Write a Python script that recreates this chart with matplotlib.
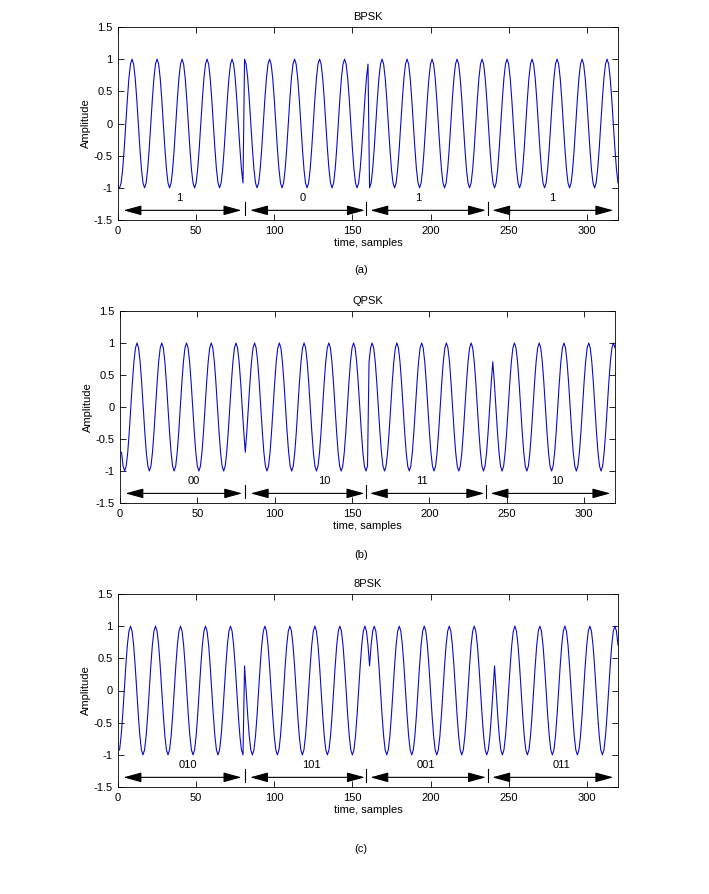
import numpy as np
import matplotlib
matplotlib.use('Agg')
import matplotlib.pyplot as plt

plt.rcParams['font.family'] = ['Liberation Sans', 'DejaVu Sans']
plt.rcParams['axes.unicode_minus'] = False

# --- data ---
titles = ['BPSK', 'QPSK', '8PSK']
panel_tags = ['(a)', '(b)', '(c)']
bit_labels = [['1', '0', '1', '1'],
              ['00', '10', '11', '10'],
              ['010', '101', '001', '011']]
# carrier phase of every symbol, in units of pi/8
phase_eighths = [[8, 0, 8, 8],
                 [6, 10, 14, 2],
                 [9, 3, 13, 3]]
samples_per_symbol = 80
samples_per_cycle = 16

# --- layout (pixels of the 709x894 figure turned into fractions) ---
axes_rects = [[118 / 709, 1 - 220 / 894, 500 / 709, 193 / 894],
              [120 / 709, 1 - 503 / 894, 495 / 709, 192 / 894],
              [118 / 709, 1 - 787 / 894, 500 / 709, 193 / 894]]
tag_y = [270, 555, 849]
arrow_spans = [(3.5, 79), (84.5, 158), (161.5, 235.5), (239.5, 317)]
divider_x = [81, 159, 236.5]
label_x = [[39, 118, 192, 278],
           [48, 132, 195, 283],
           [45, 124, 197, 284]]
arrow_y = -1.35
text_y = -1.16

fig = plt.figure(figsize=(7.09, 8.94), dpi=100)

for p in range(3):
    ax = fig.add_axes(axes_rects[p])
    n = np.arange(samples_per_symbol * len(phase_eighths[p]))
    phase = np.repeat(np.array(phase_eighths[p]) * np.pi / 8, samples_per_symbol)
    y = np.cos(2 * np.pi * n / samples_per_cycle + phase)
    ax.plot(n + 1, y, color='#0c0cc8', lw=0.8)

    ax.set_xlim(0, 320)
    ax.set_ylim(-1.5, 1.5)
    ax.set_xticks(range(0, 301, 50))
    ax.set_yticks([-1.5, -1, -0.5, 0, 0.5, 1, 1.5])
    ax.set_yticklabels(['-1.5', '-1', '-0.5', '0', '0.5', '1', '1.5'])
    ax.tick_params(direction='in', top=True, right=True, length=4,
                   width=0.6, labelsize=8, pad=4)
    for s in ax.spines.values():
        s.set_linewidth(0.6)
    ax.set_title(titles[p], fontsize=8, pad=5)
    ax.set_xlabel('time, samples', fontsize=8, labelpad=2)
    ax.set_ylabel('Amplitude', fontsize=8, labelpad=2)

    # symbol arrows, separators and bit labels
    for k, (a, b) in enumerate(arrow_spans):
        ax.annotate('', xy=(a, arrow_y), xytext=(b, arrow_y),
                    arrowprops=dict(arrowstyle='<|-|>,head_length=1.1,head_width=0.3',
                                    color='k', lw=0.8, shrinkA=0, shrinkB=0,
                                    mutation_scale=10))
        ax.text(label_x[p][k], text_y, bit_labels[p][k], fontsize=8,
                ha='center', va='center')
    for d in divider_x:
        ax.plot([d, d], [-1.22, -1.42], color='k', lw=0.8)

    fig.text(361 / 709, 1 - tag_y[p] / 894, panel_tags[p], fontsize=8,
             ha='center', va='center')

fig.savefig('out.png', dpi=100)
